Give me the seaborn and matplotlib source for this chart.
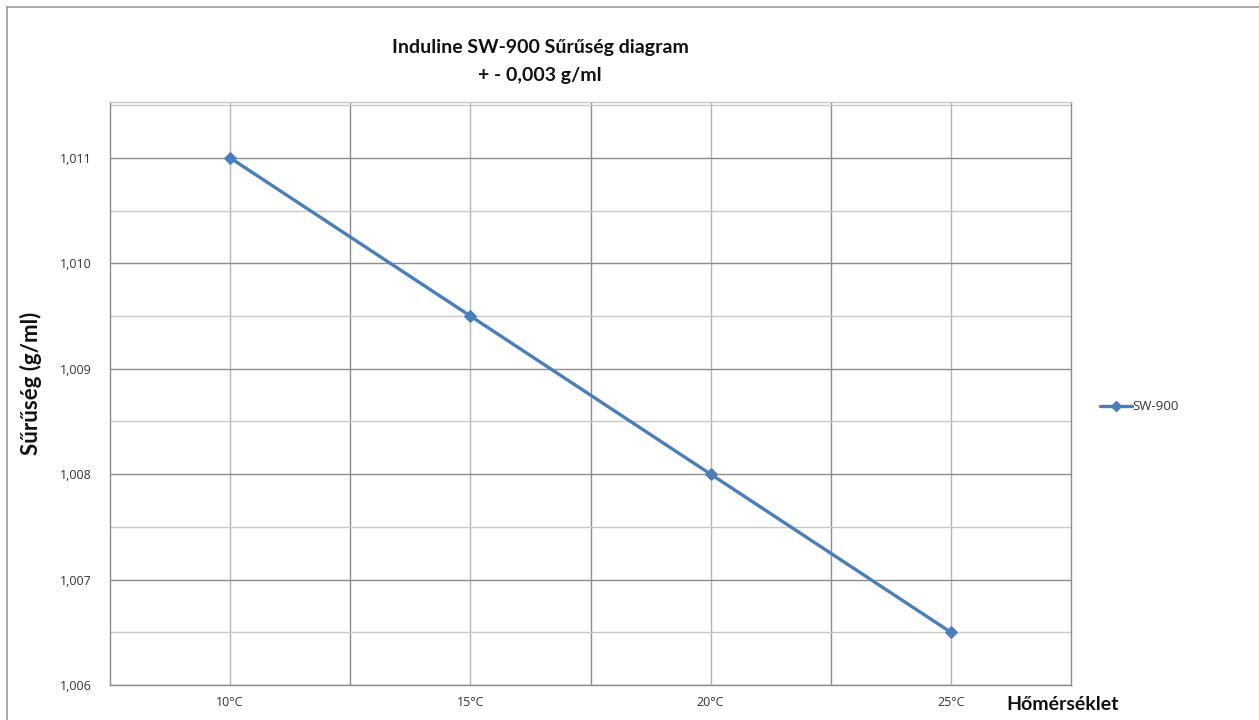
import matplotlib
matplotlib.use("Agg")
import matplotlib.pyplot as plt
from matplotlib.lines import Line2D
from matplotlib.ticker import MultipleLocator, FixedLocator
import seaborn as sns
import pandas as pd

# data
temps = ["10°C", "15°C", "20°C", "25°C"]
density = [1.011, 1.0095, 1.008, 1.0065]
series_name = "SW-900"

sns.set_style("white")
plt.rcParams["font.family"] = ["Open Sans", "DejaVu Sans"]

df = pd.DataFrame({"temp": temps, "density": density})

fig = plt.figure(figsize=(12.59, 7.2), dpi=100)
ax = fig.add_axes([110 / 1259, 1 - 685 / 720, (1071 - 110) / 1259, (685 - 102) / 720])

line_col = "#4a7ebb"
sns.lineplot(data=df, x="temp", y="density", ax=ax, color=line_col, linewidth=2.4,
             marker="D", markersize=6, markeredgecolor=line_col, sort=False)

ax.set_xlim(-0.5, 3.5)
ax.set_ylim(1.006, 1.01153)

# y grid: darker at whole values, lighter at halves
ax.yaxis.set_minor_locator(MultipleLocator(0.0005))
ax.set_yticks([1.006, 1.007, 1.008, 1.009, 1.010, 1.011])
ax.set_yticklabels(["1,006", "1,007", "1,008", "1,009", "1,010", "1,011"])

ax.xaxis.set_minor_locator(FixedLocator([0.5, 1.5, 2.5]))
ax.set_xticks(range(len(temps)))
ax.set_xticklabels(temps)

ax.grid(which="major", axis="y", color="#8c8c8c", linewidth=1.0)
ax.grid(which="minor", axis="y", color="#c8c8c8", linewidth=1.0)
ax.grid(which="major", axis="x", color="#b4b4b4", linewidth=1.0)
ax.grid(which="minor", axis="x", color="#8c8c8c", linewidth=1.0)
ax.set_axisbelow(True)

ax.tick_params(axis="both", which="both", length=0, labelsize=9, colors="#333333")
ax.tick_params(axis="y", pad=13)
ax.tick_params(axis="x", pad=8)

for side in ["left", "bottom", "right", "top"]:
    ax.spines[side].set_visible(True)
    ax.spines[side].set_linewidth(1.0)
ax.spines["left"].set_color("#8c8c8c")
ax.spines["bottom"].set_color("#8c8c8c")
ax.spines["right"].set_color("#8c8c8c")
ax.spines["top"].set_color("#c8c8c8")

ax.set_xlabel("")
ax.set_ylabel("")

bold_font = ["Lato", "DejaVu Sans"]
fig.text(31 / 1259, 1 - 383 / 720, "Sűrűség (g/ml)", fontsize=16, fontweight="bold",
         color="#111111", rotation=90, ha="center", va="center", family=bold_font)

fig.text(1063 / 1259, 1 - 705 / 720, "Hőmérséklet", fontsize=14, fontweight="bold",
         color="#111111", ha="center", va="center", family=bold_font)

fig.text(540 / 1259, 1 - 47 / 720, "Induline SW-900 Sűrűség diagram", fontsize=14,
         fontweight="bold", color="#111111", ha="center", va="center", family=bold_font)
fig.text(540 / 1259, 1 - 75 / 720, "+ - 0,003 g/ml", fontsize=14,
         fontweight="bold", color="#111111", ha="center", va="center", family=bold_font)

# legend outside on the right
handle = Line2D([], [], color=line_col, linewidth=2.4, marker="D", markersize=5)
fig.legend([handle], [series_name], loc="center left",
           bbox_to_anchor=(1088 / 1259, 1 - 407 / 720), frameon=False,
           fontsize=9.5, handlelength=2.4, handletextpad=0.1, labelcolor="#333333")

# outer frame of the chart area
fig.add_artist(Line2D([7 / 1259, 7 / 1259], [0, 1 - 7 / 720], transform=fig.transFigure,
                      color="#999999", linewidth=1.2))
fig.add_artist(Line2D([7 / 1259, 1], [1 - 7 / 720, 1 - 7 / 720], transform=fig.transFigure,
                      color="#999999", linewidth=1.2))

fig.savefig("out.png", dpi=100, facecolor="white")
